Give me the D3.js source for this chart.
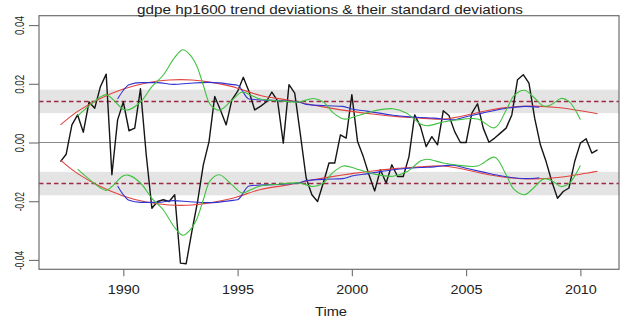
<!DOCTYPE html>
<html>
<head>
<meta charset="utf-8">
<script src="https://cdn.jsdelivr.net/npm/d3@7"></script>
<style>
  html, body { margin: 0; padding: 0; background: #fff; }
  svg { display: block; }
  text { font-family: "Liberation Sans", Arial, sans-serif; fill: #222; }
</style>
</head>
<body>
<svg id="chart" width="624" height="320"></svg>
<script>
// ---------------- data ----------------
const titleText = "gdpe hp1600 trend deviations & their standard deviations";
const xLabel = "Time";
const xTicks = [1990, 1995, 2000, 2005, 2010];
const yTicks = [-0.04, -0.02, 0.00, 0.02, 0.04];
const yTickLabels = ["-0.04", "-0.02", "0.00", "0.02", "0.04"];

// quarterly series start
const seriesStart = 1987.25;
const seriesFreq = 4;
// gdpe hp1600 trend deviations (quarterly, 1987Q2 - 2010Q4)
const gdpeDev = [
  -0.0065, -0.0040, 0.0060, 0.0094, 0.0035, 0.0138, 0.0117, 0.0191,
  0.0233, -0.0110, 0.0077, 0.0138, 0.0040, 0.0049, 0.0183, -0.0040,
  -0.0224, -0.0201, -0.0195, -0.0201, -0.0178, -0.0411, -0.0413, -0.0303,
  -0.0201, -0.0076, 0.0003, 0.0157, 0.0111, 0.0060, 0.0145, 0.0174,
  0.0222, 0.0174, 0.0111, 0.0123, 0.0138, 0.0172, 0.0142, -0.0002,
  0.0197, 0.0168, 0.0026, -0.0121, -0.0178, -0.0201, -0.0138, -0.0070,
  -0.0070, 0.0026, 0.0015, 0.0163, 0.0003, -0.0048, -0.0110, -0.0165,
  -0.0093, -0.0138, -0.0076, -0.0116, -0.0116, -0.0048, 0.0094, 0.0055,
  -0.0014, 0.0020, -0.0008, 0.0108, 0.0092, 0.0037, 0.0000, 0.0000,
  0.0100, 0.0132, 0.0049, 0.0001, 0.0015, 0.0032, 0.0049, 0.0094,
  0.0214, 0.0231, 0.0202, 0.0083, -0.0008, -0.0065, -0.0133, -0.0190,
  -0.0167, -0.0155, -0.0065, -0.0002, 0.0013, -0.0036, -0.0025
];

// red: smooth standard deviation (plotted as +/-)
const redTime = [1987.25, 1988, 1989, 1990, 1991, 1992, 1993, 1994, 1995, 1996, 1997, 1998,
                 1999, 2000, 2001, 2002, 2003, 2004, 2005, 2006, 2007, 2008, 2009, 2010, 2010.75];
const redSd   = [0.0060, 0.0106, 0.0150, 0.0182, 0.0203, 0.0213, 0.0213, 0.0203, 0.0185, 0.0160, 0.0147, 0.0132,
                 0.0118, 0.0106, 0.0096, 0.0088, 0.0083, 0.0080, 0.0093, 0.0110, 0.0121, 0.0124, 0.0119, 0.0108, 0.0098];

// blue: rolling standard deviation (plotted as +/-)
const blueTime = [1989.75, 1990.0, 1990.25, 1990.75, 1991.5, 1992.2, 1992.9, 1993.7, 1994.2, 1994.7, 1995.0, 1995.5,
                  1996.0, 1997.0, 1997.7, 1998.0, 1998.9, 1999.6, 2000.0, 2000.65, 2001.8, 2002.4, 2003.0, 2003.6,
                  2004.4, 2005.0, 2005.7, 2006.7, 2007.6, 2008.2];
const blueSd   = [0.0148, 0.0178, 0.0197, 0.0204, 0.0204, 0.0198, 0.0202, 0.0205, 0.0203, 0.0198, 0.0195, 0.0148,
                  0.0145, 0.0142, 0.0138, 0.0130, 0.0125, 0.0123, 0.0114, 0.0107, 0.0093, 0.0088, 0.0085, 0.0083,
                  0.0077, 0.0088, 0.0100, 0.0116, 0.0123, 0.0120];

// green: local standard deviation (plotted as +/-)
const greenTime = [1988.0, 1988.5, 1989.0, 1989.25, 1989.5, 1990.0, 1990.25, 1990.75, 1991.25, 1991.75, 1992.25, 1992.6,
                   1992.9, 1993.2, 1993.5, 1993.8, 1994.2, 1994.7, 1995.2, 1995.6, 1996.0, 1996.8, 1997.7, 1998.3,
                   1998.75, 1999.2, 1999.65, 2000.2, 2001.0, 2001.8, 2002.4, 2003.0, 2003.3, 2004.0, 2004.5, 2005.5,
                   2006.25, 2006.75, 2007.1, 2007.55, 2007.95, 2008.4, 2008.75, 2009.15, 2009.5, 2010.0];
const greenSd   = [0.0091, 0.0125, 0.0155, 0.0163, 0.0150, 0.0113, 0.0112, 0.0138, 0.0190, 0.0230, 0.0290, 0.0316,
                   0.0300, 0.0263, 0.0195, 0.0130, 0.0110, 0.0140, 0.0172, 0.0160, 0.0148, 0.0142, 0.0138, 0.0150,
                   0.0138, 0.0100, 0.0080, 0.0090, 0.0108, 0.0115, 0.0100, 0.0063, 0.0057, 0.0070, 0.0076, 0.0080,
                   0.0050, 0.0110, 0.0160, 0.0178, 0.0155, 0.0124, 0.0130, 0.0150, 0.0140, 0.0078];

// reference band and mean standard deviation
const bandLow = 0.010, bandHigh = 0.018, meanSd = 0.014;

// ---------------- layout ----------------
const box = { left: 39, right: 619, top: 15.7, bottom: 269.3 };
const svg = d3.select("#chart");

const x = d3.scaleLinear().domain([1986.31, 2011.69]).range([box.left, box.right]);
const y = d3.scaleLinear().domain([-0.0432, 0.0432]).range([box.bottom, box.top]);

const g = svg.append("g");

svg.append("defs").append("clipPath").attr("id", "clip")
  .append("rect").attr("x", box.left).attr("y", box.top)
  .attr("width", box.right - box.left).attr("height", box.bottom - box.top);

const plot = g.append("g").attr("clip-path", "url(#clip)");

// grey bands
[[bandLow, bandHigh], [-bandHigh, -bandLow]].forEach(([a, b]) => {
  plot.append("rect")
    .attr("x", box.left).attr("width", box.right - box.left)
    .attr("y", y(b)).attr("height", y(a) - y(b))
    .attr("fill", "#e4e4e4");
});

// zero line
plot.append("line")
  .attr("x1", box.left).attr("x2", box.right)
  .attr("y1", y(0)).attr("y2", y(0))
  .attr("stroke", "#8a8a8a").attr("stroke-width", 1.2);

// dashed mean lines
[meanSd, -meanSd].forEach(v => {
  plot.append("line")
    .attr("x1", box.left).attr("x2", box.right)
    .attr("y1", y(v)).attr("y2", y(v))
    .attr("stroke", "#9a2a45").attr("stroke-width", 1.5)
    .attr("stroke-dasharray", "4.5,3");
});

// black deviations line
const devData = gdpeDev.map((v, i) => [seriesStart + i / seriesFreq, v]);
plot.append("path")
  .datum(devData)
  .attr("fill", "none").attr("stroke", "#151515").attr("stroke-width", 1.4)
  .attr("stroke-linejoin", "round")
  .attr("d", d3.line().x(d => x(d[0])).y(d => y(d[1])));

function band(times, vals, color, curve, width) {
  [1, -1].forEach(s => {
    plot.append("path")
      .datum(times.map((t, i) => [t, s * vals[i]]))
      .attr("fill", "none").attr("stroke", color).attr("stroke-width", width)
      .attr("d", d3.line().curve(curve).x(d => x(d[0])).y(d => y(d[1])));
  });
}
band(redTime, redSd, "#e2433f", d3.curveNatural, 1.1);
band(blueTime, blueSd, "#3232d2", d3.curveMonotoneX, 1.1);
band(greenTime, greenSd, "#3fc23f", d3.curveCatmullRom, 1.1);

// box
g.append("rect")
  .attr("x", box.left).attr("y", box.top)
  .attr("width", box.right - box.left).attr("height", box.bottom - box.top)
  .attr("fill", "none").attr("stroke", "#6e6e6e").attr("stroke-width", 1.2);

// x axis
const xAxis = g.append("g").attr("transform", `translate(0,${box.bottom})`)
  .call(d3.axisBottom(x).tickValues(xTicks).tickSize(7).tickFormat(d3.format("d")));
xAxis.select(".domain").remove();
xAxis.selectAll(".tick line").attr("stroke", "#6e6e6e").attr("stroke-width", 1.1);
xAxis.selectAll(".tick text")
  .attr("y", 25).attr("dy", 0)
  .style("font-size", "12px")
  .attr("textLength", 32).attr("lengthAdjust", "spacingAndGlyphs")
  .attr("fill", "#222");

// y axis
const yAxis = g.append("g").attr("transform", `translate(${box.left},0)`)
  .call(d3.axisLeft(y).tickValues(yTicks).tickSize(10).tickFormat((d, i) => yTickLabels[i]));
yAxis.select(".domain").remove();
yAxis.selectAll(".tick line").attr("stroke", "#6e6e6e").attr("stroke-width", 1.1);
yAxis.selectAll(".tick text")
  .attr("x", 0).attr("dy", 0)
  .attr("transform", "translate(-15,0) rotate(-90)")
  .attr("text-anchor", "middle")
  .style("font-size", "12.5px")
  .attr("textLength", 19).attr("lengthAdjust", "spacingAndGlyphs")
  .attr("fill", "#222");

// title
svg.append("text")
  .attr("x", 330).attr("y", 14)
  .attr("text-anchor", "middle")
  .style("font-size", "13px")
  .attr("textLength", 386).attr("lengthAdjust", "spacingAndGlyphs")
  .text(titleText);

// x label
svg.append("text")
  .attr("x", 331).attr("y", 316)
  .attr("text-anchor", "middle")
  .style("font-size", "12px")
  .attr("textLength", 32).attr("lengthAdjust", "spacingAndGlyphs")
  .text(xLabel);
</script>
</body>
</html>
